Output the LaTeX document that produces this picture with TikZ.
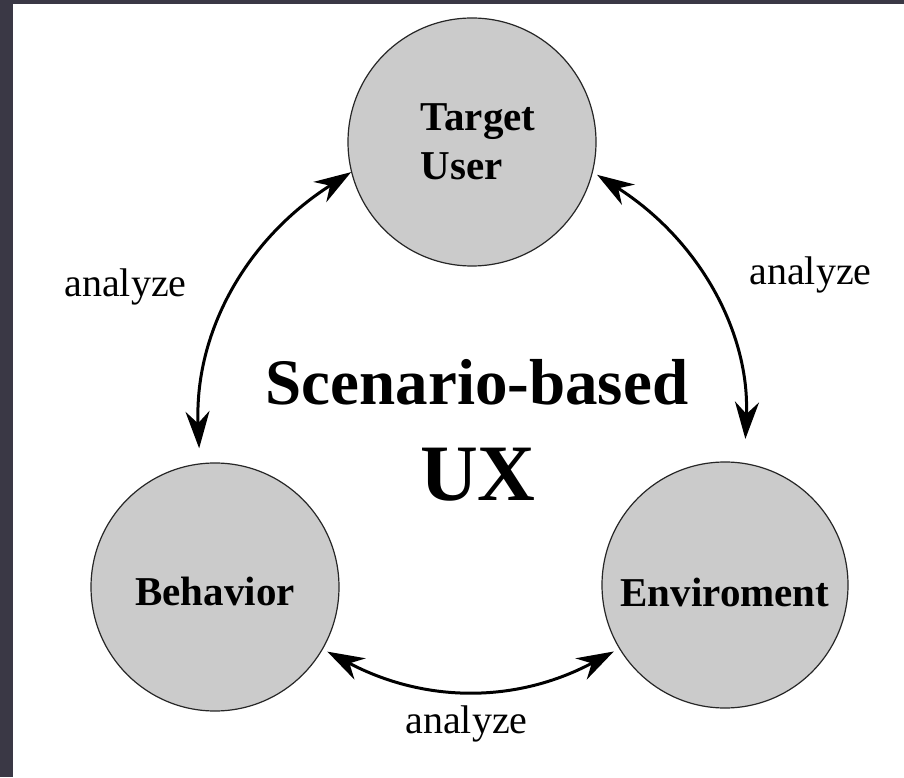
\documentclass[tikz,border=0pt]{standalone}
\usepackage{fontspec}
\setmainfont{Liberation Serif}
\usetikzlibrary{arrows.meta}
\definecolor{framecol}{HTML}{3A3845}
\definecolor{disc}{HTML}{CBCBCB}
\begin{document}
\begin{tikzpicture}[x=1pt,y=1pt,
 circ/.style={circle, draw=black!85, line width=1.2pt, fill=disc, minimum size=248pt, inner sep=0pt, font=\fontsize{41}{49}\selectfont\bfseries},
 tipb/.tip={Stealth[length=37pt,width=24pt,inset=12pt]},
 link/.style={tipb-tipb, line width=3pt},
 word/.style={font=\fontsize{40}{48}\selectfont, inner sep=0pt, anchor=base}]
\useasboundingbox (0,0) rectangle (904,777);
\fill[framecol] (0,0) rectangle (904,777);
\fill[white] (13,0) rectangle (904,773);
\node[circ, align=left] (tu) at (472,635) {\hspace*{12pt}Target\\\hspace*{12pt}User};
\node[circ, text height=36pt, text depth=0pt] (beh) at (215,190) {Behavior};
\node[circ, text height=42pt, text depth=0pt, minimum size=246pt] (env) at (725,192) {Enviroment};
\draw[link, shorten >=15pt] (tu.194) to[bend right=30] (beh.97);
\draw[link, shorten <=5pt, shorten >=24pt] (tu.346) to[bend left=30] (env.81);
\draw[link, shorten <=5pt, shorten >=6pt] (beh.330) to[bend right=28] (env.211);
\node[word] (a1) at (125.5,480) {analyze};
\node[word] (a2) at (810.5,492) {analyze};
\node[word] (a3) at (466.5,44) {analyze};
\node[font=\fontsize{65}{70}\selectfont\bfseries, anchor=base, inner sep=0pt] (t1) at (477,372) {Scenario-based};
\node[font=\fontsize{80}{80}\selectfont\bfseries, anchor=base, inner sep=0pt] (t2) at (478,277) {UX};
\end{tikzpicture}
\end{document}
